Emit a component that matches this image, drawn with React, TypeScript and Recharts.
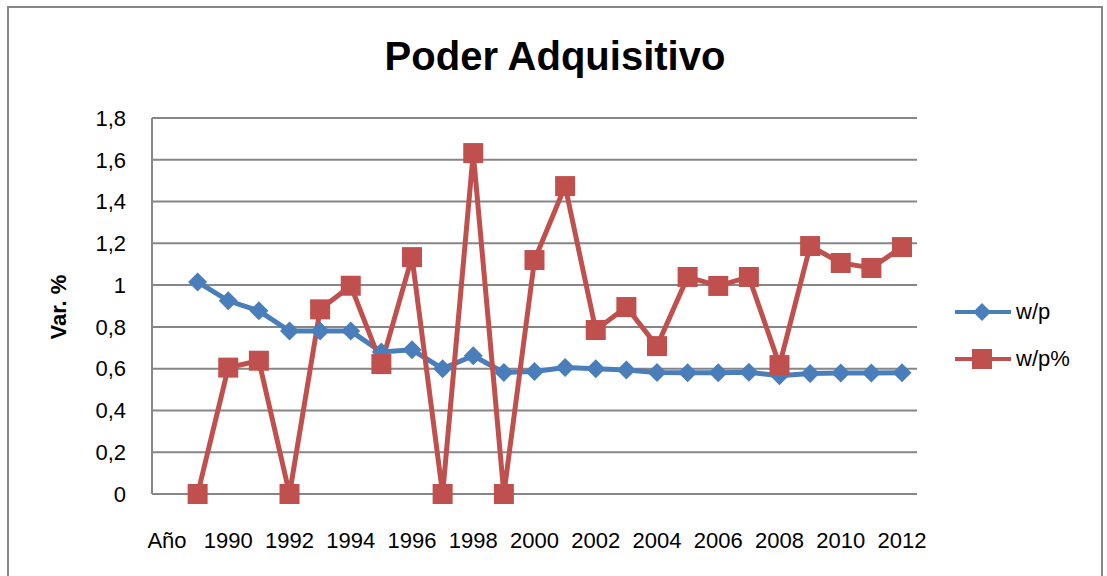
import { LineChart, Line, XAxis, YAxis, CartesianGrid } from 'recharts';

const years = [
    'Año', '1989', '1990', '1991', '1992', '1993', '1994', '1995', '1996', '1997', '1998', '1999',
    '2000', '2001', '2002', '2003', '2004', '2005', '2006', '2007', '2008', '2009', '2010', '2011', '2012',
];

// w/p
const wp = [
    null, 1.015, 0.925, 0.877, 0.78, 0.78, 0.78, 0.68, 0.69, 0.6, 0.662, 0.582,
    0.587, 0.605, 0.6, 0.594, 0.582, 0.58, 0.58, 0.583, 0.566, 0.577, 0.579, 0.579, 0.58,
];

// w/p%
const wpPct = [
    null, 0, 0.605, 0.638, 0, 0.884, 0.997, 0.622, 1.134, 0, 1.632, 0,
    1.12, 1.474, 0.785, 0.895, 0.708, 1.039, 0.996, 1.039, 0.617, 1.187, 1.106, 1.082, 1.182,
];

const yTicks = [0, 0.2, 0.4, 0.6, 0.8, 1, 1.2, 1.4, 1.6, 1.8];

const BLUE = '#4a7ebb';
const RED = '#c0504d';
const GRID = '#868686';
const FONT = '"Liberation Sans", Arial, sans-serif';

const data = years.map((year, i) => ({ year, wp: wp[i], wpPct: wpPct[i] }));

const Diamond = (props: any) => {
    const { cx, cy, index } = props;
    if (cx == null || cy == null) return <g key={`d-${index}`} />;
    const r = 9.5;
    return (
        <path
            key={`d-${index}`}
            d={`M${cx},${cy - r}L${cx + r},${cy}L${cx},${cy + r}L${cx - r},${cy}Z`}
            fill={BLUE}
        />
    );
};

const Square = (props: any) => {
    const { cx, cy, index } = props;
    if (cx == null || cy == null) return <g key={`s-${index}`} />;
    return <rect key={`s-${index}`} x={cx - 10} y={cy - 10} width={20} height={20} fill={RED} />;
};

function LegendItem({ name, color, marker, top }: { name: string; color: string; marker: 'diamond' | 'square'; top: number }) {
    return (
        <div style={{ position: 'absolute', left: 955, top: top - 12, height: 24, display: 'flex', alignItems: 'center' }}>
            <svg width={56} height={24}>
                <line x1={0} y1={12} x2={56} y2={12} stroke={color} strokeWidth={4} />
                {marker === 'diamond' ? (
                    <path d="M27,3L36,12L27,21L18,12Z" fill={color} />
                ) : (
                    <rect x={17} y={2} width={20} height={20} fill={color} />
                )}
            </svg>
            <span style={{ marginLeft: 5, fontSize: 22, fontFamily: FONT, color: '#000' }}>{name}</span>
        </div>
    );
}

export default function App() {
    return (
        <div style={{ position: 'absolute', left: 0, top: 0, width: 1107, height: 576, overflow: 'hidden', background: '#fff' }}>
            <div
                style={{
                    position: 'absolute',
                    left: 7,
                    top: 6,
                    width: 1092,
                    height: 620,
                    border: `2px solid ${GRID}`,
                }}
            />
            <div
                style={{
                    position: 'absolute',
                    left: 0,
                    top: 36,
                    width: 1110,
                    textAlign: 'center',
                    fontFamily: FONT,
                    fontWeight: 'bold',
                    fontSize: 40,
                    lineHeight: '40px',
                    color: '#000',
                }}
            >
                Poder Adquisitivo
            </div>
            <div style={{ position: 'absolute', left: 0, top: 0 }}>
                <LineChart width={1107} height={576} data={data} margin={{ top: 118, right: 190, bottom: 52, left: 92 }}>
                    <CartesianGrid vertical={false} stroke={GRID} strokeWidth={2} />
                    <XAxis
                        dataKey="year"
                        interval={1}
                        height={30}
                        padding={{ left: 15, right: 15 }}
                        tickLine={false}
                        tickSize={0}
                        tickMargin={38}
                        axisLine={{ stroke: GRID, strokeWidth: 2 }}
                        tick={{ fill: '#000', fontSize: 22, fontFamily: FONT }}
                    />
                    <YAxis
                        width={60}
                        domain={[0, 1.8]}
                        ticks={yTicks}
                        interval={0}
                        tickLine={false}
                        tickSize={0}
                        tickMargin={26}
                        axisLine={{ stroke: GRID, strokeWidth: 2 }}
                        tick={{ fill: '#000', fontSize: 22, fontFamily: FONT }}
                        tickFormatter={(v: number) => String(v).replace('.', ',')}
                        label={{
                            content: () => (
                                <text
                                    x={58}
                                    y={307}
                                    transform="rotate(-90 58 307)"
                                    textAnchor="middle"
                                    dominantBaseline="central"
                                    fontFamily={FONT}
                                    fontWeight="bold"
                                    fontSize={22}
                                    fill="#000"
                                >
                                    Var. %
                                </text>
                            ),
                        }}
                    />
                    <Line
                        dataKey="wp"
                        name="w/p"
                        stroke={BLUE}
                        strokeWidth={5}
                        dot={Diamond}
                        activeDot={false}
                        isAnimationActive={false}
                    />
                    <Line
                        dataKey="wpPct"
                        name="w/p%"
                        stroke={RED}
                        strokeWidth={5}
                        dot={Square}
                        activeDot={false}
                        isAnimationActive={false}
                    />
                </LineChart>
            </div>
            <LegendItem name="w/p" color={BLUE} marker="diamond" top={312} />
            <LegendItem name="w/p%" color={RED} marker="square" top={359} />
        </div>
    );
}
